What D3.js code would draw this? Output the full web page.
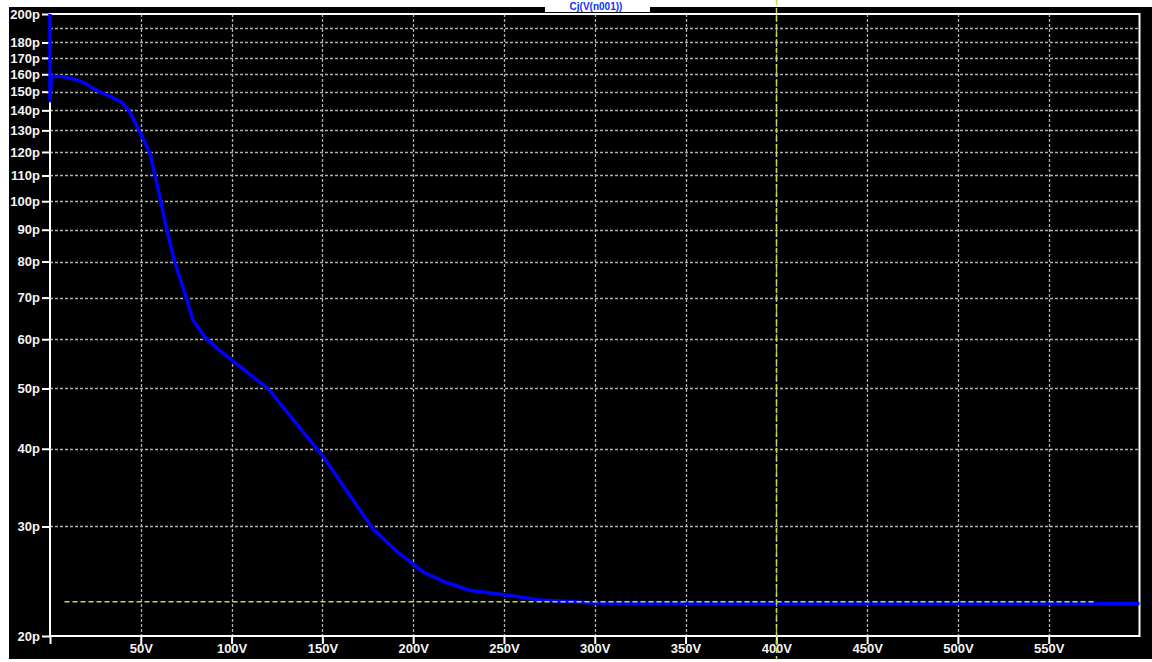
<!DOCTYPE html>
<html>
<head>
<meta charset="utf-8">
<script src="https://cdn.jsdelivr.net/npm/d3@7"></script>
<style>
  html, body { margin: 0; padding: 0; background: #ffffff; }
  svg { display: block; }
  .axis text { font-family: "Liberation Sans", Arial, sans-serif; font-weight: bold; font-size: 13px; fill: #f4f4f4; }
</style>
</head>
<body>
<svg id="chart" width="1152" height="662"></svg>
<script>
// ---- data ----
const voltage = [0, 0, 0.8, 8, 15, 20, 27, 34, 40, 44, 49, 55, 60.5, 64.3, 68.7, 74.2, 78.7, 85, 92, 100, 110, 120, 150, 178, 192, 206, 218, 231, 250, 270, 300, 350, 400, 450, 500, 550, 600];
const capacitance = [200, 145, 159, 158.5, 156.6, 154.4, 150, 147.1, 143.8, 139, 130, 119.6, 101.6, 89.9, 79.8, 71.2, 64.4, 60.6, 58, 55.6, 52.7, 50, 39, 29.7, 27.2, 25.3, 24.4, 23.7, 23.3, 22.85, 22.6, 22.55, 22.55, 22.55, 22.55, 22.55, 22.55];
const xTickValues = [50, 100, 150, 200, 250, 300, 350, 400, 450, 500, 550];
const yTickValues = [20, 30, 40, 50, 60, 70, 80, 90, 100, 110, 120, 130, 140, 150, 160, 170, 180, 200];
const yGridValues = [30, 40, 50, 60, 70, 80, 90, 100, 110, 120, 130, 140, 150, 160, 170, 180, 190];
const cursorLevel = 22.7;        // horizontal cursor (pF)
const cursorSpan = [8, 575];     // horizontal cursor extent (V)
const cursorVoltage = 400;       // vertical cursor (V)
const titleText = "Cj(V(n001))";

const svg = d3.select("#chart");
const W = 1152, H = 662;
const pLeft = 50, pRight = 1139.5, pTop = 14, pBottom = 636;

// backgrounds
svg.append("rect").attr("x", 0).attr("y", 0).attr("width", W).attr("height", H).attr("fill", "#ffffff");
svg.append("rect").attr("x", 9).attr("y", 7).attr("width", W - 9).attr("height", 652).attr("fill", "#000000");
svg.append("rect").attr("x", 545).attr("y", 0).attr("width", 105).attr("height", 12).attr("fill", "#ffffff");
svg.append("text").attr("x", 596).attr("y", 10).attr("text-anchor", "middle")
  .attr("font-family", "Liberation Sans, Arial, sans-serif").attr("font-size", 10).attr("font-weight", "bold")
  .attr("fill", "#1030ff").text(titleText);

const x = d3.scaleLinear().domain([0, 600]).range([pLeft, pRight]);
const y = d3.scaleLog().domain([20, 200]).range([pBottom, pTop]);

// grid
const grid = svg.append("g");
grid.selectAll("line.h").data(yGridValues).join("line")
  .attr("x1", pLeft).attr("x2", pRight)
  .attr("y1", d => Math.round(y(d)) + 0.5).attr("y2", d => Math.round(y(d)) + 0.5)
  .attr("stroke", "#b0b0b0").attr("stroke-width", 1.3).attr("stroke-dasharray", "3,2");
grid.selectAll("line.v").data(xTickValues).join("line")
  .attr("x1", d => Math.round(x(d)) + 0.5).attr("x2", d => Math.round(x(d)) + 0.5)
  .attr("y1", pTop).attr("y2", pBottom)
  .attr("stroke", "#b0b0b0").attr("stroke-width", 1.3).attr("stroke-dasharray", "3,2");

// frame
svg.append("rect").attr("x", pLeft).attr("y", pTop).attr("width", pRight - pLeft).attr("height", pBottom - pTop)
  .attr("fill", "none").attr("stroke", "#ffffff").attr("stroke-width", 2);

// axes
const yAxis = d3.axisLeft(y).tickValues(yTickValues).tickFormat(d => d + "p").tickSize(8).tickPadding(2);
const gy = svg.append("g").attr("class", "axis").attr("transform", `translate(${pLeft},0)`).call(yAxis);
gy.select(".domain").remove();
gy.selectAll(".tick line").attr("stroke", "#ffffff").attr("stroke-width", 2);

const xAxis = d3.axisBottom(x).tickValues([0].concat(xTickValues)).tickFormat(d => d === 0 ? "" : d + "V").tickSize(8).tickPadding(2);
const gx = svg.append("g").attr("class", "axis").attr("transform", `translate(0,${pBottom})`).call(xAxis);
gx.select(".domain").remove();
gx.selectAll(".tick line").attr("stroke", "#ffffff").attr("stroke-width", 2);
gx.selectAll(".tick text").attr("dy", "0.55em");

// curve
const line = d3.line().x((d, i) => x(voltage[i])).y((d, i) => y(capacitance[i])).curve(d3.curveLinear);
svg.append("path").datum(voltage).attr("d", line)
  .attr("fill", "none").attr("stroke", "#0000ff").attr("stroke-width", 3.5)
  .attr("stroke-linejoin", "round");

// cursors
const cursorColor = "#b8e050";
svg.append("line")
  .attr("x1", x(cursorSpan[0])).attr("x2", x(cursorSpan[1]))
  .attr("y1", y(cursorLevel)).attr("y2", y(cursorLevel))
  .attr("stroke", cursorColor).attr("stroke-width", 1.5).attr("stroke-dasharray", "5,3");
svg.append("line")
  .attr("x1", Math.round(x(cursorVoltage)) + 0.5).attr("x2", Math.round(x(cursorVoltage)) + 0.5)
  .attr("y1", 0).attr("y2", 660)
  .attr("stroke", cursorColor).attr("stroke-width", 1.5).attr("stroke-dasharray", "5,3");
</script>
</body>
</html>
